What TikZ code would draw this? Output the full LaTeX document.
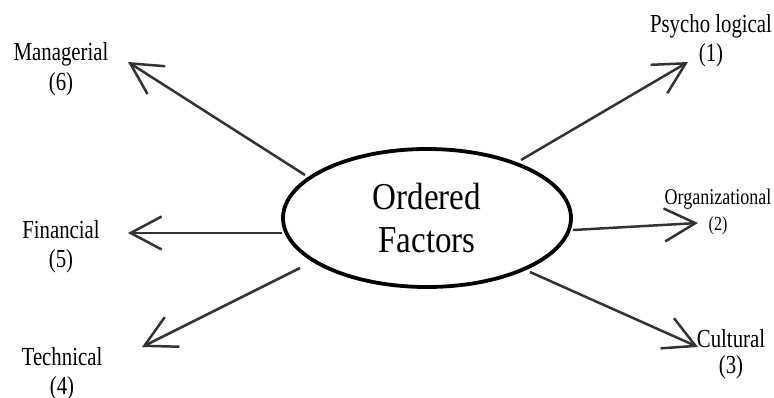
\documentclass[tikz,border=0pt]{standalone}
\usepackage{fontspec}
\setmainfont{Liberation Serif}[FakeStretch=0.8]
\newfontfamily\centerfont{Liberation Serif}[FakeStretch=0.87]
\usetikzlibrary{shapes.geometric,arrows.meta}
\definecolor{arrowgray}{HTML}{333333}
\tikzset{
  factor/.style={ellipse,draw=black,line width=3.8pt,minimum width=288pt,minimum height=138pt,inner sep=0pt,
    align=center,font={\centerfont\fontsize{38}{43}\selectfont}},
  lbl/.style={anchor=base,align=center,inner sep=0pt,font={\fontsize{26}{28}\selectfont}},
  arr/.style={draw=arrowgray,line width=2.5pt,-{Straight Barb[length=31pt,width=33pt]}}
}
\begin{document}
\begin{tikzpicture}[x=1pt,y=-1pt]
\useasboundingbox (0,0) rectangle (774,397);
\node[factor] (ell) at (427,218) {Ordered\\Factors};
% labels (anchor = baseline of the last line)
\node[lbl,font={\fontsize{26}{29}\selectfont}] (l1) at (711,61) {Psycho logical\\(1)};
\node[lbl,font={\fontsize{22.5}{26}\selectfont}] (l2) at (718,230) {Organizational\\{\fontsize{20}{26}\selectfont(2)}};
\node[lbl,font={\fontsize{26}{26}\selectfont}] (l3) at (731,373) {Cultural\\(3)};
\node[lbl,font={\fontsize{26}{29}\selectfont}] (l4) at (62,394) {Technical\\(4)};
\node[lbl,font={\fontsize{26}{29}\selectfont}] (l5) at (61,267) {Financial\\(5)};
\node[lbl,font={\fontsize{26}{30}\selectfont}] (l6) at (61,90) {Managerial\\(6)};
% connector ends
\coordinate (s1) at (521,160); \coordinate (t1) at (688,62);
\coordinate (s2) at (573,230); \coordinate (t2) at (698,223);
\coordinate (s3) at (530,272); \coordinate (t3) at (698,347);
\coordinate (s4) at (300,268); \coordinate (t4) at (142,347);
\coordinate (s5) at (282,233); \coordinate (t5) at (128,233);
\coordinate (s6) at (305,175); \coordinate (t6) at (128,62);
\draw[arr] (s1) -- (t1);
\draw[arr] (s2) -- (t2);
\draw[arr] (s3) -- (t3);
\draw[arr] (s4) -- (t4);
\draw[arr] (s5) -- (t5);
\draw[arr] (s6) -- (t6);
\end{tikzpicture}
\end{document}
